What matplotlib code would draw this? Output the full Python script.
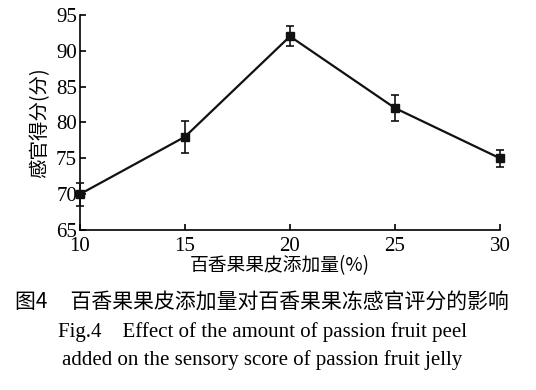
import matplotlib
matplotlib.use("Agg")
import matplotlib.pyplot as plt

# data
amount = [10, 15, 20, 25, 30]
score = [70, 78, 92, 82, 75]
err = [1.6, 2.2, 1.4, 1.8, 1.2]
yticks = [65, 70, 75, 80, 85, 90, 95]

cjk = ['Noto Sans CJK SC', 'DejaVu Sans']
serif = ['Liberation Serif', 'Noto Sans CJK SC']

fig = plt.figure(figsize=(5.36, 3.90), dpi=100)
ax = fig.add_axes([0.149, 0.41, 0.784, 0.552])

ax.errorbar(amount, score, yerr=err, color='#111111', lw=1.6, marker='s', ms=6,
            capsize=3, elinewidth=1.2, capthick=1.2, clip_on=False, zorder=3)

ax.set_xlim(10, 30)
ax.set_ylim(65, 95)
ax.set_xticks(amount)
ax.set_yticks(yticks)
ax.spines['top'].set_visible(False)
ax.spines['right'].set_visible(False)
for s in ax.spines.values():
    s.set_linewidth(1.2)
ax.tick_params(direction='in', length=4, width=1.2, labelsize=15)
ax.tick_params(axis='x', pad=5)
ax.tick_params(axis='y', pad=2)
for lab in ax.get_xticklabels() + ax.get_yticklabels():
    lab.set_family(serif)

ax.set_xlabel('百香果果皮添加量(%)', family=cjk, fontsize=13.5, labelpad=-1)
ax.xaxis.set_label_coords(0.475, -0.115)
ax.set_ylabel('感官得分(分)', family=cjk, fontsize=14, labelpad=4)

fig.text(0.489, 1 - 302 / 390, '图4     百香果果皮添加量对百香果果冻感官评分的影响',
         family=cjk, fontsize=15, ha='center', va='center')
fig.text(0.489, 1 - 332 / 390, 'Fig.4    Effect of the amount of passion fruit peel',
         family=serif, fontsize=15, ha='center', va='center')
fig.text(0.489, 1 - 360 / 390, 'added on the sensory score of passion fruit jelly',
         family=serif, fontsize=15, ha='center', va='center')

fig.savefig('out.png', dpi=100)
